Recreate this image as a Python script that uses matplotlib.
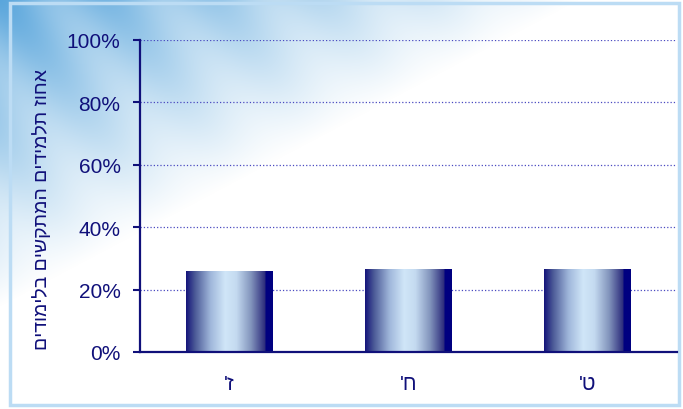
import numpy as np
import matplotlib
matplotlib.use("Agg")
import matplotlib.pyplot as plt
from matplotlib.colors import LinearSegmentedColormap, to_rgb
from matplotlib.patches import Rectangle

plt.rcParams['font.family'] = ['Liberation Sans', 'DejaVu Sans']

# data
grades = ["'ז", "'ח", "'ט"]
values = [26.0, 26.6, 26.7]
yticks = [0, 20, 40, 60, 80, 100]
ylabel = "םידומילב םישקתמה םידימלת זוחא"   # visual order for rotated RTL text

navy = '#10107a'

fig = plt.figure(figsize=(6.83, 4.10), dpi=100)

# sky-like background
bg = fig.add_axes([0, 0, 1, 1], zorder=0)
bg.set_axis_off()
u, w = np.meshgrid(np.linspace(0, 1, 683), np.linspace(0, 1, 410))
d = u / 0.85 + w / 0.75
k = np.clip(1 - d, 0, 1) ** 1.0
# faint wisps
k = k * (1 - 0.25 * np.sin((u * 2.2 - w * 1.0) * 9.0) ** 2)
sky = np.array(to_rgb('#5aa6dc'))
img = (1 - k[..., None]) * np.ones(3) + k[..., None] * sky
bg.imshow(img, extent=[0, 1, 0, 1], aspect='auto', origin='upper')
bg.set_xlim(0, 1)
bg.set_ylim(0, 1)
bg.add_patch(Rectangle((10 / 683, 4 / 410), 669 / 683, 402 / 410,
                       fill=False, ec='#bcdcf4', lw=2.5))

ax = fig.add_axes([140 / 683, 57 / 410, 537 / 683, 312 / 410], zorder=1)
ax.patch.set_alpha(0)

x = np.arange(len(grades))
bars = ax.bar(x, values, width=0.485, color='none', edgecolor='none', zorder=3)

cmap = LinearSegmentedColormap.from_list('barshade', [
    (0.0, '#14147a'), (0.1, '#4a5896'), (0.28, '#9fb6da'), (0.45, '#d0e6f8'),
    (0.58, '#c4daf0'), (0.75, '#8294bc'), (0.91, '#2c2c7c'), (0.92, '#000080'),
    (1.0, '#000080')])
grad = np.linspace(0, 1, 256).reshape(1, -1)
for b in bars:
    x0, y0 = b.get_x(), b.get_y()
    im = ax.imshow(grad, cmap=cmap, aspect='auto', zorder=3,
                   extent=[x0, x0 + b.get_width(), y0, y0 + b.get_height()])
    im.set_clip_path(b)

ax.set_xlim(-0.5, 2.5)
ax.set_ylim(0, 100)
ax.set_yticks(yticks)
ax.set_yticklabels([f'{t}%' for t in yticks])
ax.set_xticks(x)
ax.set_xticklabels(grades)
ax.yaxis.grid(True, linestyle=':', color='#4a4ac0', linewidth=0.9)
ax.set_axisbelow(True)

for s in ['top', 'right']:
    ax.spines[s].set_visible(False)
for s in ['left', 'bottom']:
    ax.spines[s].set_color(navy)
    ax.spines[s].set_linewidth(1.6)
    ax.spines[s].set_zorder(4)

ax.tick_params(axis='y', colors=navy, labelsize=15, length=5, width=1.5, pad=9)
ax.tick_params(axis='x', colors=navy, labelsize=15, length=0, pad=16)
ax.set_ylabel(ylabel, color=navy, fontsize=14)
ax.yaxis.set_label_coords(-0.166, 0.46)

fig.savefig('out.png', dpi=100)
